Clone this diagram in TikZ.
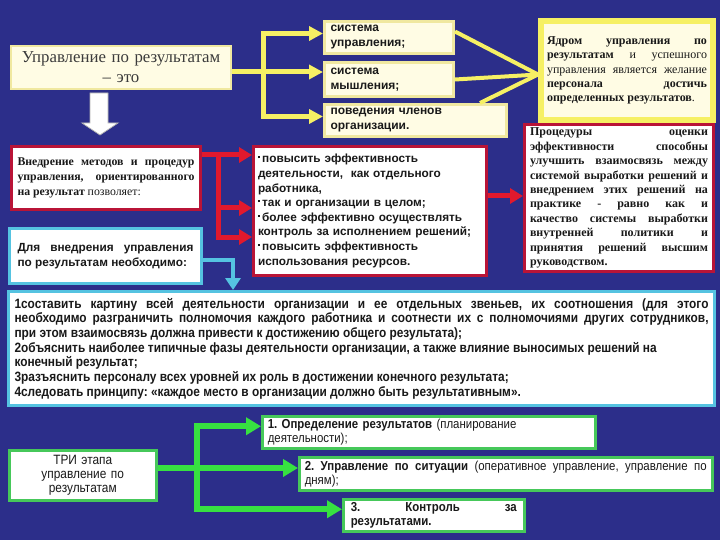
\documentclass[tikz,border=0pt]{standalone}
\usepackage{fontspec}
\setmainfont{Liberation Serif}
\setsansfont{Liberation Sans}
\newfontfamily\narrowsans[FakeStretch=0.88]{Liberation Sans}
\usetikzlibrary{arrows.meta}

\definecolor{bgblue}{RGB}{44,46,138}
\definecolor{cream}{RGB}{255,252,228}
\definecolor{paleyel}{RGB}{240,232,160}
\definecolor{brightyel}{RGB}{246,240,100}
\definecolor{boxred}{RGB}{185,20,55}
\definecolor{arrred}{RGB}{225,25,45}
\definecolor{cyanln}{RGB}{85,195,225}
\definecolor{greenln}{RGB}{55,225,65}
\definecolor{greenbox}{RGB}{70,200,90}
\definecolor{ink}{RGB}{25,25,25}

\newcommand{\sqbul}{\rule[4.5pt]{2.2pt}{2.2pt}\,}
\frenchspacing

\begin{document}
\begin{tikzpicture}[x=1pt, y=-1pt,
  box/.style={anchor=north west, inner sep=0pt, text=ink},
  ybox/.style={box, draw=paleyel, line width=3pt, fill=cream},
  rbox/.style={box, draw=boxred, line width=3pt, fill=white},
  cbox/.style={box, draw=cyanln, line width=3pt, fill=white},
  gbox/.style={box, draw=greenbox, line width=2.5pt, fill=white},
  yarr/.style={draw=brightyel, line width=5pt, -{Triangle[length=14pt,width=14pt]}},
  yline/.style={draw=brightyel, line width=4pt},
  rarr/.style={draw=arrred, line width=5pt, -{Triangle[length=13pt,width=15pt]}},
  carr/.style={draw=cyanln, line width=4pt, -{Triangle[length=12pt,width=15pt]}},
  garr/.style={draw=greenln, line width=6pt, -{Triangle[length=15pt,width=17pt]}}]

  \fill[bgblue] (0,0) rectangle (720,540);
  \useasboundingbox (0,0) rectangle (720,540);

  % upper part
  \node[ybox, draw=paleyel, line width=2pt, minimum width=220pt, minimum height=43pt,
    text width=214pt, align=center, text=ink!85, font=\fontsize{16.8}{20}\selectfont]
    (ctrl) at (10,45) {Управление по результатам\\– это};
  \draw[fill=white, draw=gray!60, line width=0.8pt]
    (90,93) -- (108,93) -- (108,123) -- (118,123) -- (100,135) -- (82,123) -- (90,123) -- cycle;

  \node[ybox, minimum width=129pt, minimum height=32pt, text width=117pt, align=left,
    font=\fontsize{12}{15}\selectfont\sffamily\bfseries]
    (sa) at (323,20) {система\\управления;};
  \node[ybox, minimum width=129pt, minimum height=34pt, text width=117pt, align=left,
    font=\fontsize{12}{15}\selectfont\sffamily\bfseries]
    (sb) at (323,61) {система\\мышления;};
  \node[ybox, minimum width=182pt, minimum height=32pt, text width=170pt, align=left,
    font=\fontsize{12}{15}\selectfont\sffamily\bfseries]
    (sc) at (323,103) {поведения членов\\организации.};
  \node[ybox, draw=brightyel, line width=6pt, minimum width=172pt, minimum height=99pt,
    text width=160pt, align=justify, font=\fontsize{12}{14.4}\selectfont]
    (core) at (538,18) {\textbf{Ядром управления по}\linebreak \textbf{результатам} и успешного\linebreak
    управления является желание\linebreak \textbf{персонала достичь}\linebreak
    \textbf{определенных результатов}.};

  \coordinate (yj) at (263,72);
  \draw[yarr] (ctrl.east |- yj) -- (sb.west |- yj);
  \draw[yarr] (yj) |- ([yshift=4pt]sa.west);
  \draw[yarr] (yj) |- ([yshift=4pt]sc.west);
  \draw[yline] ([yshift=6pt]sa.east) -- ([yshift=-4pt]core.west);
  \draw[yline] (sb.east) -- ([yshift=-4pt]core.west);
  \draw[yline] ([xshift=-28pt]sc.north east) -- ([yshift=-4pt]core.west);

  % middle part
  \node[rbox, minimum width=189pt, minimum height=63pt, text width=177pt, align=justify,
    font=\fontsize{11.8}{15}\selectfont]
    (impl) at (10,145) {\textbf{Внедрение методов и процедур}\linebreak
    \textbf{управления, ориентированного}\linebreak \textbf{на результат} позволяет:};
  \node[rbox, minimum width=233pt, minimum height=129pt, text width=224pt, align=left,
    font=\fontsize{11.8}{14.6}\selectfont\sffamily\bfseries]
    (bul) at (252,145) {\sqbul повысить эффективность\\деятельности,\ \ как отдельного\\работника,\\
    \sqbul так и организации в целом;\\\sqbul более эффективно осуществлять\\
    контроль за исполнением решений;\\\sqbul повысить эффективность\\использования ресурсов.};
  \node[rbox, minimum width=189pt, minimum height=147pt, text width=178pt, align=justify,
    font=\fontsize{12}{14.4}\selectfont\bfseries]
    (proc) at (523,123) {Процедуры оценки\linebreak эффективности способны\linebreak
    улучшить взаимосвязь между\linebreak системой выработки решений и\linebreak
    внедрением этих решений на\linebreak практике - равно как и\linebreak
    качество системы выработки\linebreak внутренней политики и\linebreak
    принятия решений высшим\linebreak руководством.};
  \node[cbox, minimum width=192pt, minimum height=55pt, text width=176pt, align=justify,
    font=\fontsize{11.8}{15}\selectfont\sffamily\bfseries]
    (need) at (8,227) {Для внедрения управления\linebreak по результатам необходимо:};

  \coordinate (rj) at (218,155);
  \coordinate (rm) at (218,208);
  \coordinate (rb) at (218,237);
  \coordinate (rp) at (505,196);
  \draw[rarr] (impl.east |- rj) -- (bul.west |- rj);
  \draw[rarr] (rj) |- (bul.west |- rm);
  \draw[rarr] (rj) |- (bul.west |- rb);
  \draw[rarr] (bul.east |- rp) -- (proc.west |- rp);

  \node[cbox, minimum width=706pt, minimum height=114pt, text width=694pt, align=justify,
    font=\fontsize{13.5}{14.7}\selectfont\narrowsans\bfseries]
    (big) at (7,290) {1составить картину всей деятельности организации и ее отдельных звеньев, их соотношения (для этого\linebreak
    необходимо разграничить полномочия каждого работника и соотнести их с полномочиями других сотрудников,\linebreak
    при этом взаимосвязь должна привести к достижению общего результата);\\
    2объяснить наиболее типичные фазы деятельности организации, а также влияние выносимых решений на\\
    конечный результат;\\
    3разъяснить персоналу всех уровней их роль в достижении конечного результата;\\
    4следовать принципу: «каждое место в организации должно быть результативным».};

  \coordinate (cj) at (233,260);
  \draw[carr] (need.east |- cj) -| (big.north -| cj);

  % lower part
  \node[gbox, minimum width=147pt, minimum height=50pt, text width=130pt, align=center,
    font=\fontsize{13.5}{14}\selectfont\narrowsans]
    (tri) at (8,449) {ТРИ этапа\\управление по\\результатам};
  \node[gbox, minimum width=333pt, minimum height=32pt, text width=322pt, align=left,
    font=\fontsize{13}{14}\selectfont\narrowsans]
    (s1) at (261,415) {\textbf{1. Определение результатов} (планирование\\деятельности);};
  \node[gbox, minimum width=413pt, minimum height=33pt, text width=402pt, align=justify,
    font=\fontsize{13}{14}\selectfont\narrowsans]
    (s2) at (298,456) {\textbf{2. Управление по ситуации} (оперативное управление, управление по\linebreak дням);};
  \node[gbox, minimum width=181pt, minimum height=32pt, text width=166pt, align=justify,
    font=\fontsize{13}{14}\selectfont\narrowsans\bfseries]
    (s3) at (342,498) {3. Контроль за\linebreak результатами.};

  \coordinate (gj) at (197,468);
  \draw[garr] (tri.east |- gj) -- (s2.west |- gj);
  \draw[garr] (gj) |- ([yshift=6pt]s1.west);
  \draw[garr] (gj) |- ([yshift=6pt]s3.west);
\end{tikzpicture}
\end{document}
